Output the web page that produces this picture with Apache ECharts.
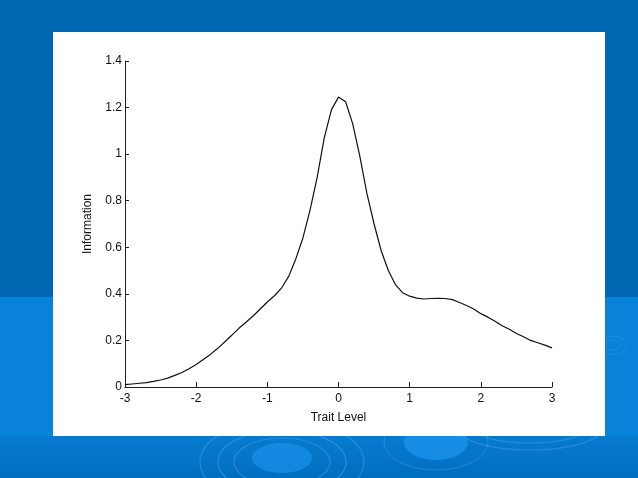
<!DOCTYPE html>
<html>
<head>
<meta charset="utf-8">
<script src="https://cdn.jsdelivr.net/npm/echarts@6/dist/echarts.min.js"></script>
<style>
html,body{margin:0;padding:0;background:#0068b2;}
#chart{width:638px;height:478px;}
</style>
</head>
<body>
<div id="chart"></div>
<script>
var xTicks = [-3, -2, -1, 0, 1, 2, 3];
var yTicks = [0, 0.2, 0.4, 0.6, 0.8, 1, 1.2, 1.4];
var trait = [-3.0,-2.9,-2.8,-2.7,-2.6,-2.5,-2.4,-2.3,-2.2,-2.1,-2.0,-1.9,-1.8,-1.7,-1.6,-1.5,-1.4,-1.3,-1.2,-1.1,-1.0,-0.9,-0.8,-0.7,-0.6,-0.5,-0.4,-0.3,-0.2,-0.1,0.0,0.1,0.2,0.3,0.4,0.5,0.6,0.7,0.8,0.9,1.0,1.1,1.2,1.3,1.4,1.5,1.6,1.7,1.8,1.9,2.0,2.1,2.2,2.3,2.4,2.5,2.6,2.7,2.8,2.9,3.0];
var information = [0.010,0.013,0.016,0.019,0.024,0.030,0.038,0.050,0.062,0.078,0.097,0.118,0.140,0.165,0.193,0.222,0.252,0.278,0.305,0.335,0.365,0.392,0.425,0.475,0.550,0.640,0.760,0.900,1.070,1.190,1.245,1.225,1.130,0.990,0.830,0.700,0.585,0.500,0.440,0.405,0.390,0.382,0.378,0.380,0.381,0.380,0.375,0.363,0.350,0.335,0.315,0.300,0.282,0.263,0.248,0.230,0.216,0.200,0.190,0.180,0.168];

var data = trait.map(function (t, i) { return [t, information[i]]; });

function ring(cx, cy, rx, ry, w, op) {
  return { type: 'ellipse', shape: { cx: cx, cy: cy, rx: rx, ry: ry }, z: -9,
    style: { fill: null, stroke: 'rgba(80,170,240,' + op + ')', lineWidth: w }, silent: true };
}
function blob(cx, cy, rx, ry, op) {
  return { type: 'ellipse', shape: { cx: cx, cy: cy, rx: rx, ry: ry }, z: -9,
    style: { fill: 'rgba(30,150,240,' + op + ')' }, silent: true };
}

var chart = echarts.init(document.getElementById('chart'), null, { renderer: 'canvas' });
chart.setOption({
  animation: false,
  backgroundColor: '#0068b2',
  graphic: [
    { type: 'rect', shape: { x: 0, y: 297, width: 638, height: 181 }, z: -10, style: { fill: '#0982da' }, silent: true },
    { type: 'rect', shape: { x: 0, y: 436, width: 638, height: 42 }, z: -10,
      style: { fill: new echarts.graphic.LinearGradient(0, 0, 0, 1, [{ offset: 0, color: '#087bd0' }, { offset: 1, color: '#006ebf' }]) }, silent: true },
    ring(282, 462, 82, 42, 1.2, 0.45),
    ring(282, 462, 64, 32, 1.2, 0.45),
    ring(282, 462, 48, 24, 1.2, 0.4),
    blob(282, 458, 30, 15, 0.6),
    blob(436, 442, 32, 18, 0.7),
    ring(436, 442, 52, 28, 1, 0.4),
    ring(530, 428, 72, 22, 1.2, 0.4),
    ring(530, 428, 56, 15, 1.2, 0.4),
    ring(612, 345, 15, 9, 1, 0.25),
    ring(612, 345, 8, 5, 1, 0.25),
    { type: 'rect', shape: { x: 53, y: 32, width: 552, height: 404 }, z: -5, style: { fill: '#ffffff' }, silent: true }
  ],
  grid: { left: 125, right: 86, top: 61, bottom: 91, containLabel: false },
  xAxis: {
    type: 'value', min: -3, max: 3, interval: 1,
    name: 'Trait Level', nameLocation: 'middle', nameGap: 25,
    nameTextStyle: { color: '#111', fontFamily: 'Liberation Sans', fontSize: 12 },
    axisLine: { show: true, onZero: false, lineStyle: { color: '#222', width: 1 } },
    axisTick: { show: true, inside: true, length: 5, lineStyle: { color: '#222' } },
    axisLabel: { color: '#111', fontFamily: 'Liberation Sans', fontSize: 12, margin: 6,
      formatter: function (v) { return xTicks.indexOf(v) >= 0 ? String(v) : ''; } },
    splitLine: { show: false }
  },
  yAxis: {
    type: 'value', min: 0, max: 1.4, interval: 0.2,
    name: 'Information', nameLocation: 'middle', nameGap: 31, nameRotate: 90,
    nameTextStyle: { color: '#111', fontFamily: 'Liberation Sans', fontSize: 12 },
    axisLine: { show: true, onZero: false, lineStyle: { color: '#222', width: 1 } },
    axisTick: { show: true, inside: true, length: 4, lineStyle: { color: '#222' } },
    axisLabel: { color: '#111', fontFamily: 'Liberation Sans', fontSize: 12, margin: 3,
      formatter: function (v) {
        var r = Math.round(v * 10) / 10;
        return yTicks.indexOf(r) >= 0 ? String(r) : '';
      } },
    splitLine: { show: false }
  },
  series: [{
    type: 'line', data: data, showSymbol: false, smooth: false,
    lineStyle: { color: '#111', width: 1.2 }
  }]
});
</script>
</body>
</html>
